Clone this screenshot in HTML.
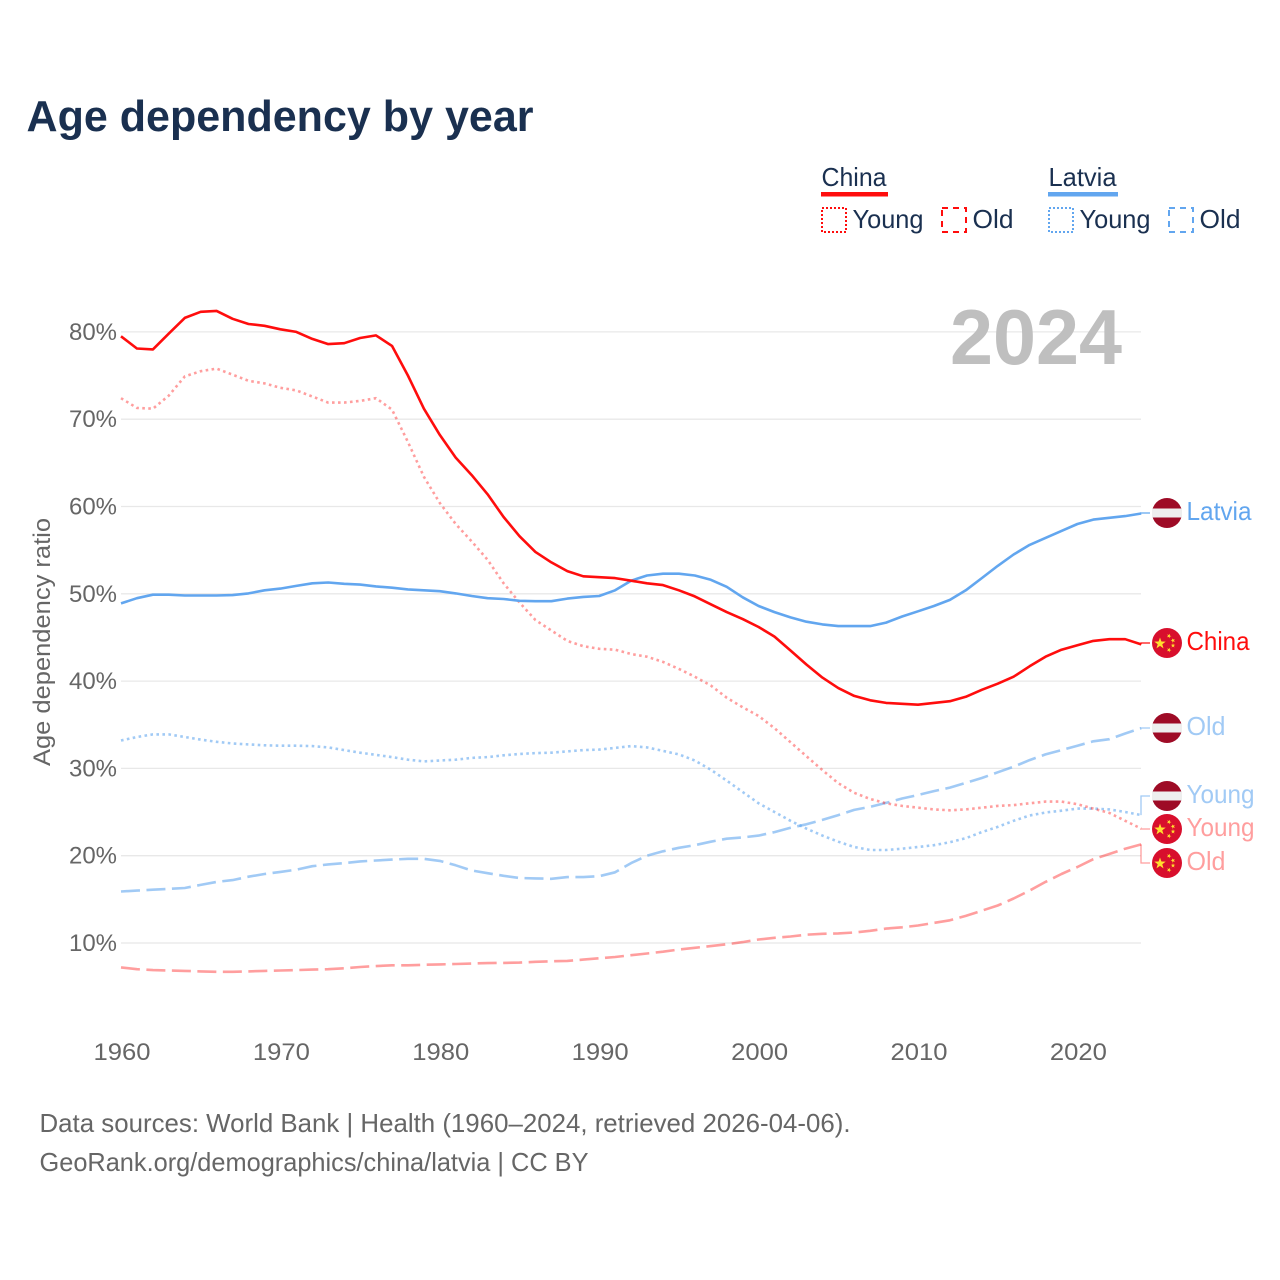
<!DOCTYPE html>
<html lang="en">
<head>
<meta charset="utf-8">
<title>Age dependency by year</title>
<style>
html,body{margin:0;padding:0;background:#fff;}
svg{display:block;}
text{font-family:"Liberation Sans",sans-serif;}
</style>
</head>
<body>
<svg id="chart" xmlns="http://www.w3.org/2000/svg" width="1280" height="1280" viewBox="0 0 1280 1280">
  <rect width="1280" height="1280" fill="#fff"/>
  <text x="26.5" y="131" font-size="44" font-weight="700" fill="#1a3050" textLength="507" lengthAdjust="spacingAndGlyphs">Age dependency by year</text>

  <g>
    <text x="821.5" y="186" font-size="26" fill="#1a3050" textLength="65" lengthAdjust="spacingAndGlyphs">China</text>
    <rect x="821" y="192" width="67" height="4.5" fill="#ff0d0d"/>
    <rect x="822" y="208" width="24" height="24" fill="none" stroke="#ff0d0d" stroke-width="2" stroke-dasharray="2 2"/>
    <text x="852.5" y="228" font-size="26" fill="#1a3050" textLength="71" lengthAdjust="spacingAndGlyphs">Young</text>
    <rect x="942" y="208" width="24" height="24" fill="none" stroke="#ff0d0d" stroke-width="2" stroke-dasharray="6 5"/>
    <text x="972.5" y="228" font-size="26" fill="#1a3050" textLength="41" lengthAdjust="spacingAndGlyphs">Old</text>

    <text x="1048.5" y="186" font-size="26" fill="#1a3050" textLength="68" lengthAdjust="spacingAndGlyphs">Latvia</text>
    <rect x="1048" y="192" width="70" height="4.5" fill="#62a6ef"/>
    <rect x="1049" y="208" width="24" height="24" fill="none" stroke="#62a6ef" stroke-width="2" stroke-dasharray="2 2"/>
    <text x="1079.5" y="228" font-size="26" fill="#1a3050" textLength="71" lengthAdjust="spacingAndGlyphs">Young</text>
    <rect x="1169" y="208" width="24" height="24" fill="none" stroke="#62a6ef" stroke-width="2" stroke-dasharray="6 5"/>
    <text x="1199.5" y="228" font-size="26" fill="#1a3050" textLength="41" lengthAdjust="spacingAndGlyphs">Old</text>
  </g>

  <g id="grid"></g>
  <g id="yticks"></g>
  <g id="xticks"></g>
  <text transform="translate(50,642) rotate(-90)" text-anchor="middle" font-size="24" fill="#666" textLength="248" lengthAdjust="spacingAndGlyphs">Age dependency ratio</text>
  <text x="950" y="364" font-size="78" font-weight="700" fill="#bfbfbf" textLength="172" lengthAdjust="spacingAndGlyphs">2024</text>
  <g id="series"></g>
  <g id="end-labels"></g>

  <text x="39.5" y="1132" font-size="26" fill="#666" textLength="811" lengthAdjust="spacingAndGlyphs">Data sources: World Bank | Health (1960–2024, retrieved 2026-04-06).</text>
  <text x="39.5" y="1171" font-size="26" fill="#666" textLength="549" lengthAdjust="spacingAndGlyphs">GeoRank.org/demographics/china/latvia | CC BY</text>
</svg>
<script>
const firstYear = 1960;
const yTicks = [10, 20, 30, 40, 50, 60, 70, 80];
const xTicks = [1960, 1970, 1980, 1990, 2000, 2010, 2020];

const chinaTotal = [79.5,78.1,78.0,79.8,81.6,82.3,82.4,81.5,80.9,80.7,80.3,80.0,79.2,78.6,78.7,79.3,79.6,78.4,75.0,71.2,68.2,65.6,63.6,61.4,58.8,56.6,54.8,53.6,52.6,52.0,51.9,51.8,51.5,51.2,51.0,50.4,49.7,48.8,47.9,47.1,46.2,45.1,43.5,41.9,40.4,39.2,38.3,37.8,37.5,37.4,37.3,37.5,37.7,38.2,39.0,39.7,40.5,41.7,42.8,43.6,44.1,44.6,44.8,44.8,44.2];
const chinaYoung = [72.4,71.3,71.2,72.7,74.9,75.5,75.8,75.1,74.4,74.1,73.6,73.3,72.6,71.9,71.9,72.1,72.4,71.1,67.4,63.4,60.4,58.0,56.0,53.9,51.2,49.0,47.0,45.8,44.6,44.0,43.7,43.6,43.1,42.8,42.2,41.4,40.5,39.5,38.1,37.0,36.0,34.6,33.0,31.4,29.8,28.3,27.2,26.5,26.0,25.7,25.5,25.3,25.2,25.3,25.5,25.7,25.8,26.0,26.2,26.2,25.9,25.4,24.9,24.0,23.1];
const chinaOld = [7.2,7.0,6.9,6.85,6.8,6.75,6.7,6.7,6.75,6.8,6.85,6.9,6.95,7.0,7.1,7.25,7.35,7.45,7.45,7.5,7.55,7.6,7.65,7.7,7.72,7.75,7.85,7.9,7.95,8.1,8.25,8.4,8.6,8.8,9.0,9.25,9.45,9.65,9.85,10.1,10.4,10.6,10.75,10.95,11.05,11.1,11.2,11.4,11.65,11.8,12.0,12.3,12.6,13.1,13.7,14.3,15.1,16.0,17.0,17.9,18.7,19.6,20.2,20.8,21.3];
const latviaTotal = [48.9,49.5,49.9,49.9,49.8,49.8,49.8,49.85,50.05,50.4,50.6,50.9,51.2,51.3,51.15,51.05,50.85,50.7,50.5,50.4,50.3,50.05,49.75,49.5,49.4,49.2,49.15,49.15,49.45,49.65,49.75,50.4,51.5,52.1,52.3,52.3,52.1,51.6,50.8,49.6,48.6,47.9,47.3,46.8,46.5,46.3,46.3,46.3,46.7,47.4,48.0,48.6,49.3,50.4,51.8,53.2,54.5,55.6,56.4,57.2,58.0,58.5,58.7,58.9,59.2];
const latviaYoung = [33.2,33.6,33.9,33.9,33.6,33.3,33.05,32.85,32.75,32.65,32.6,32.6,32.55,32.4,32.1,31.8,31.55,31.3,31.0,30.8,30.9,31.0,31.2,31.3,31.5,31.65,31.75,31.8,31.95,32.1,32.15,32.35,32.55,32.4,32.0,31.6,30.9,29.85,28.6,27.3,26.0,25.0,24.0,23.1,22.3,21.6,21.0,20.65,20.65,20.8,21.0,21.2,21.55,22.0,22.7,23.3,24.0,24.6,24.95,25.15,25.4,25.4,25.3,25.0,24.65];
const latviaOld = [15.9,16.0,16.1,16.2,16.3,16.65,17.0,17.2,17.6,17.9,18.15,18.4,18.8,19.0,19.15,19.35,19.45,19.55,19.65,19.65,19.4,18.9,18.3,18.0,17.7,17.45,17.4,17.35,17.55,17.55,17.65,18.1,19.15,20.0,20.5,20.9,21.2,21.6,21.95,22.1,22.3,22.7,23.2,23.6,24.1,24.65,25.25,25.6,26.05,26.55,26.95,27.4,27.8,28.35,28.9,29.55,30.2,30.95,31.6,32.1,32.6,33.1,33.35,34.0,34.6];

const NS = 'http://www.w3.org/2000/svg';
function xScale(year){ return 121 + (year - 1960) * 15.94; }
function yScale(v){ return 1030.3 - v * 8.73; }
function make(tag, attrs, parent){
  const el = document.createElementNS(NS, tag);
  for (const k in attrs) el.setAttribute(k, attrs[k]);
  parent.appendChild(el);
  return el;
}

const gridG = document.getElementById('grid');
const yG = document.getElementById('yticks');
yTicks.forEach(function(t){
  const line = make('line', {x1:121, x2:1141, y1:yScale(t), y2:yScale(t), stroke:'#e8e8e8', 'stroke-width':1.3}, gridG);
  
  
  const label = make('text', {x:117, y:yScale(t)+8, 'text-anchor':'end', 'font-size':24, fill:'#666', textLength:48, lengthAdjust:'spacingAndGlyphs'}, yG);
  
  
  label.textContent = t + '%';
});

const xG = document.getElementById('xticks');
xTicks.forEach(function(t){
  const label = make('text', {x:xScale(t)+1, y:1060, 'text-anchor':'middle', 'font-size':24, fill:'#666', textLength:57, lengthAdjust:'spacingAndGlyphs'}, xG);
  
  
  label.textContent = t;
});

function seriesPath(values){
  return values.map(function(v, i){
    return (i ? 'L' : 'M') + xScale(firstYear + i).toFixed(1) + ' ' + yScale(v).toFixed(1);
  }).join(' ');
}
const seriesG = document.getElementById('series');
function drawSeries(name, values, color, opacity, dash){
  const attrs = {d:seriesPath(values), fill:'none', stroke:color, 'stroke-width':2.6, 'stroke-opacity':opacity, 'stroke-linejoin':'round'};
  if (dash) attrs['stroke-dasharray'] = dash;
  const p = make('path', attrs, seriesG);
  
  
}
drawSeries('line-latvia-old', latviaOld, '#62a6ef', 0.6, '19 6.5');
drawSeries('line-china-old', chinaOld, '#ff0d0d', 0.4, '19 6.5');
drawSeries('line-latvia-young', latviaYoung, '#62a6ef', 0.6, '2.6 3.4');
drawSeries('line-china-young', chinaYoung, '#ff0d0d', 0.4, '2.6 3.4');
drawSeries('line-latvia-total', latviaTotal, '#62a6ef', 1, null);
drawSeries('line-china-total', chinaTotal, '#ff0d0d', 1, null);

const endG = document.getElementById('end-labels');
function star(cx, cy, r, rot, parent){
  let pts = [];
  for (let i = 0; i < 10; i++){
    const a = rot - Math.PI/2 + i * Math.PI/5;
    const rr = i % 2 ? r * 0.4 : r;
    pts.push((cx + rr * Math.cos(a)).toFixed(2) + ',' + (cy + rr * Math.sin(a)).toFixed(2));
  }
  const s = make('polygon', {points:pts.join(' '), fill:'#ffde2e'}, parent);
  
  
}
function flag(country, cy){
  const g = make('g', {}, endG);
  
  
  const cx = 1167, r = 15;
  if (country === 'latvia'){
    const c = make('circle', {cx:cx, cy:cy, r:r, fill:'#9e0b26'}, g);
    
    
    const b = make('rect', {x:cx-15, y:cy-4.5, width:30, height:9, fill:'#eeeeee'}, g);
    
    
  } else {
    const c = make('circle', {cx:cx, cy:cy, r:r, fill:'#d80f2d'}, g);
    
    
    star(cx-7, cy+0.5, 6, 0, g);
    star(cx+2, cy-7, 2.4, 0.4, g);
    star(cx+6, cy-2.5, 2.4, 0.8, g);
    star(cx+6, cy+2.5, 2.4, 0, g);
    star(cx+2, cy+7, 2.4, 0.4, g);
  }
}
function endLabel(name, country, text, color, width, labelY, lastValue, opacity){
  const y0 = yScale(lastValue);
  const d = 'M1141 ' + y0.toFixed(1) + ' L1141 ' + labelY + ' L1150 ' + labelY;
  const lead = make('path', {d:d, fill:'none', stroke:color, 'stroke-width':1.3, 'stroke-opacity':opacity}, endG);
  
  
  flag(country, labelY);
  const t = make('text', {x:1186.5, y:labelY+7, 'font-size':26, fill:color, 'fill-opacity':opacity, textLength:width, lengthAdjust:'spacingAndGlyphs'}, endG);
  
  
  t.textContent = text;
}
endLabel('latvia-total', 'latvia', 'Latvia', '#62a6ef', 65, 513, latviaTotal[latviaTotal.length-1], 1);
endLabel('china-total', 'china', 'China', '#ff0d0d', 63, 643, chinaTotal[chinaTotal.length-1], 1);
endLabel('latvia-old', 'latvia', 'Old', '#62a6ef', 39, 728, latviaOld[latviaOld.length-1], 0.6);
endLabel('latvia-young', 'latvia', 'Young', '#62a6ef', 68, 796, latviaYoung[latviaYoung.length-1], 0.6);
endLabel('china-young', 'china', 'Young', '#ff0d0d', 68, 829, chinaYoung[chinaYoung.length-1], 0.4);
endLabel('china-old', 'china', 'Old', '#ff0d0d', 39, 863, chinaOld[chinaOld.length-1], 0.4);
</script>
</body>
</html>
